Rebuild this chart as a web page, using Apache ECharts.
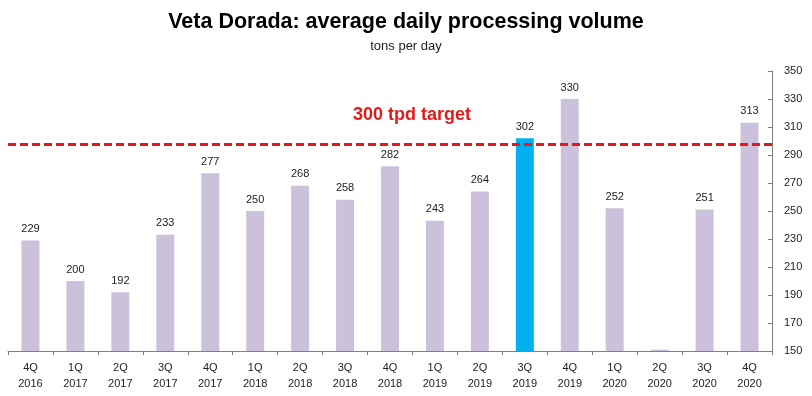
<!DOCTYPE html>
<html>
<head>
<meta charset="utf-8">
<script src="https://cdn.jsdelivr.net/npm/echarts@6/dist/echarts.min.js"></script>
<style>
  html, body { margin: 0; padding: 0; background: #fff; }
  #chart { width: 812px; height: 396px; }
</style>
</head>
<body>
<div id="chart"></div>
<script>
// quarters on the x axis
const quarters = ['4Q\n2016', '1Q\n2017', '2Q\n2017', '3Q\n2017', '4Q\n2017', '1Q\n2018', '2Q\n2018',
  '3Q\n2018', '4Q\n2018', '1Q\n2019', '2Q\n2019', '3Q\n2019', '4Q\n2019', '1Q\n2020', '2Q\n2020',
  '3Q\n2020', '4Q\n2020']
// tons per day (2Q 2020 is barely above the axis floor, no label in the original)
const volumes = [229, 200, 192, 233, 277, 250, 268, 258, 282, 243, 264, 302, 330, 252, 151, 251, 313]
const highlightIndex = 11
const hiddenLabelIndex = 14
const targetLevel = 298

const chart = echarts.init(document.getElementById('chart'))

const barData = volumes.map((v, i) => ({
  value: v,
  itemStyle: { color: i === highlightIndex ? '#00b0f0' : '#ccc1da' },
  label: { show: i !== hiddenLabelIndex },
}))

const option = {
  animation: false,
  title: {
    text: 'Veta Dorada: average daily processing volume',
    subtext: 'tons per day',
    left: 'center',
    top: 6,
    itemGap: 7,
    textStyle: {
      fontFamily: '"Liberation Sans", Arial',
      fontWeight: 'bold',
      fontSize: 21.5,
      color: '#000',
    },
    subtextStyle: {
      fontFamily: '"Liberation Sans", Arial',
      fontSize: 13,
      color: '#222',
    },
  },
  grid: { left: 8, right: 40, top: 71, bottom: 45 },
  xAxis: {
    type: 'category',
    data: quarters,
    axisLine: { lineStyle: { color: '#808080' } },
    axisTick: { show: true, length: 4, lineStyle: { color: '#808080' } },
    axisLabel: {
      color: '#222',
      fontSize: 11,
      lineHeight: 16,
      margin: 9,
      fontFamily: '"Liberation Sans", Arial',
    },
  },
  yAxis: {
    type: 'value',
    position: 'right',
    min: 150,
    max: 350,
    interval: 20,
    splitLine: { show: false },
    axisLine: { show: true, lineStyle: { color: '#808080' } },
    axisTick: { show: true, inside: true, length: 4, lineStyle: { color: '#808080' } },
    axisLabel: { color: '#222', fontSize: 11, margin: 12, fontFamily: '"Liberation Sans", Arial' },
  },
  series: [
    {
      type: 'bar',
      data: barData,
      barWidth: '40%',
      label: {
        show: true,
        position: 'top',
        distance: 6,
        color: '#222',
        fontSize: 11,
        fontFamily: '"Liberation Sans", Arial',
      },
      markLine: {
        silent: true,
        symbol: 'none',
        lineStyle: { color: '#e31a1c', type: [8, 4], width: 3 },
        label: {
          show: true,
          position: 'insideMiddleTop',
          formatter: '300 tpd target',
          color: '#e31a1c',
          fontWeight: 'bold',
          fontSize: 18,
          distance: 20,
          offset: [22, 0],
          fontFamily: '"Liberation Sans", Arial',
        },
        data: [{ yAxis: targetLevel }],
      },
    },
  ],
}

chart.setOption(option)
</script>
</body>
</html>
